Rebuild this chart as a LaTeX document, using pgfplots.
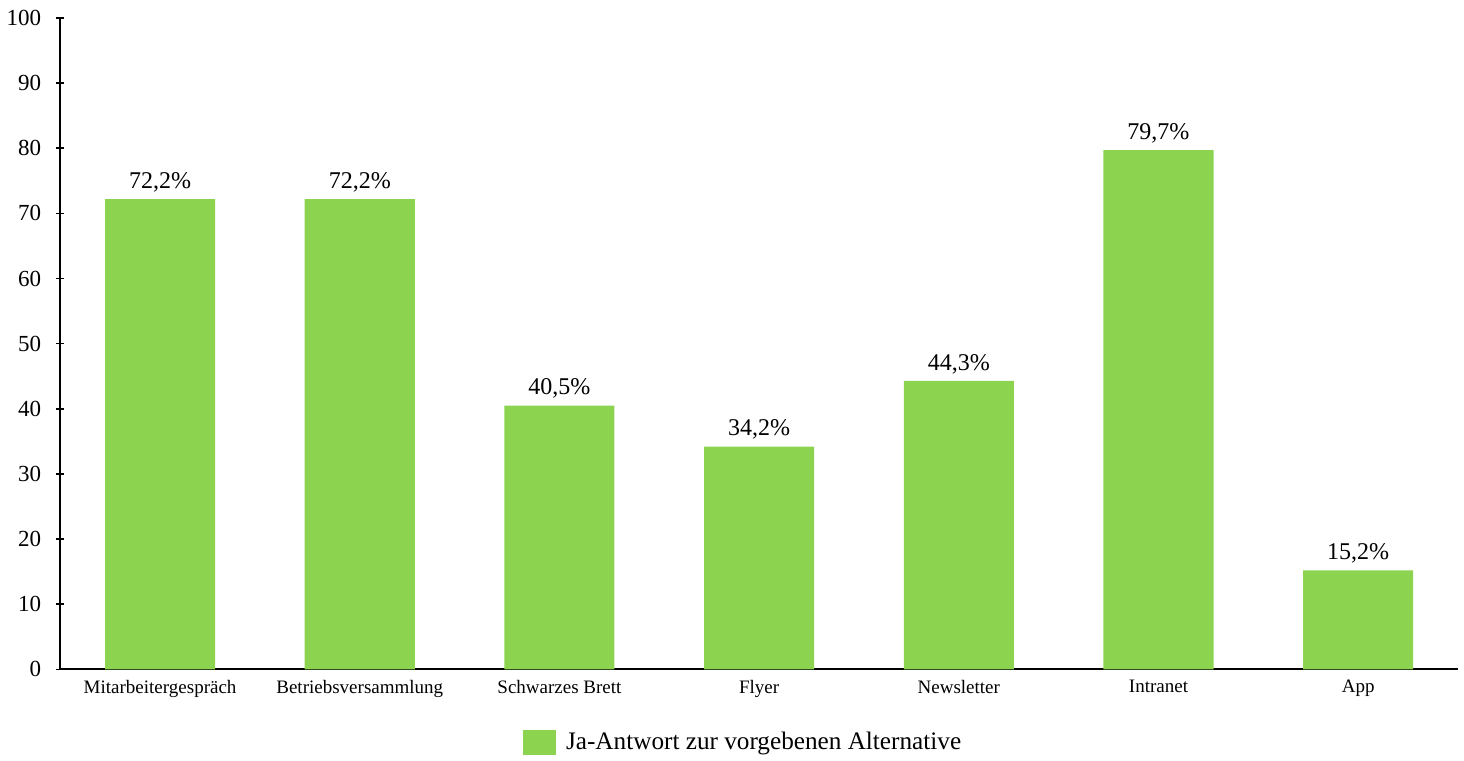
\documentclass[border=0pt]{standalone}
\usepackage{pgfplots}
\pgfplotsset{compat=1.18}
\usepackage{fontspec}
\setmainfont{Liberation Serif}
\definecolor{barg}{RGB}{140,212,80}
\begin{document}
\begin{tikzpicture}
\begin{axis}[
  width=698.5pt, height=325.5pt, scale only axis,
  xmin=-0.5, xmax=6.5, ymin=0, ymax=100,
  axis x line=bottom, axis y line=left,
  axis line style={-, line width=1pt},
  xtick={0,...,6},
  xticklabels={Mitarbeitergespräch,Betriebsversammlung,Schwarzes Brett,Flyer,Newsletter,Intranet,App},
  x tick style={draw=none},
  ytick={0,10,...,100},
  tick style={black, line width=0.8pt},
  major tick length=4pt,
  y tick label style={font=\fontsize{11.5}{13}\selectfont, xshift=-4pt},
  x tick label style={font=\fontsize{9.5}{11}\selectfont, yshift=2pt},
  /pgf/number format/assume math mode=true,
  ybar, bar width=55pt,
  point meta=explicit symbolic,
  nodes near coords,
  every node near coord/.append style={font=\fontsize{12}{14}\selectfont, black},
  legend style={at={(0.5,0)}, anchor=north, yshift=-27pt, xshift=-7.5pt, draw=none, font=\fontsize{12.6}{15}\selectfont,
    /tikz/every even column/.append style={column sep=0pt}},
  legend image code/.code={\fill[barg] (-2pt,-6.25pt) rectangle (14.5pt,6.25pt);},
]
\addplot[fill=barg, draw=none] coordinates {
  (0,72.2) [72,2\%]
  (1,72.2) [72,2\%]
  (2,40.5) [40,5\%]
  (3,34.2) [34,2\%]
  (4,44.3) [44,3\%]
  (5,79.7) [79,7\%]
  (6,15.2) [15,2\%]
};
\addlegendentry{\hspace{3pt}Ja-Antwort zur vorgebenen Alternative}
\end{axis}
\path (current axis.south east) ++(3pt,0);
\path (current axis.north west) ++(0,9pt);
\end{tikzpicture}
\end{document}
